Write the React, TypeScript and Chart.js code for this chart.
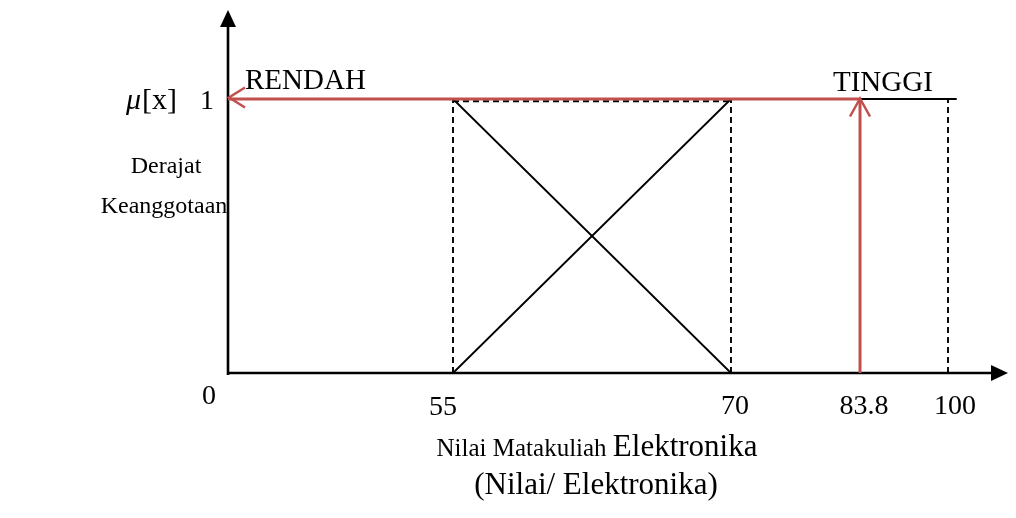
import React, { useEffect, useRef } from 'react';
import { Chart, registerables, LinearScale } from 'chart.js';

Chart.register(...registerables);

// ---------- data ----------
const xTickValues = [0, 55, 70, 83.8, 100];
const xTickLabels = ['0', '55', '70', '83.8', '100'];

const rendahX = [0, 55, 70];
const rendahY = [1, 1, 0];

const tinggiX = [55, 70, 101.6];
const tinggiY = [0, 1, 1];

const guideX = [55, 70, 100];
const plateauX = [55, 70];

const inputValue = 83.8;
const inputDegree = 1;

const setLabels = ['RENDAH', 'TINGGI'];
const yTopLabel = '1';
const yAxisLabel = ['Derajat', 'Keanggotaan'];
const xTitleSmall = 'Nilai Matakuliah ';
const xTitleBig = 'Elektronika';
const xSubtitle = '(Nilai/ Elektronika)';

// ---------- layout (schematic, non-proportional axis) ----------
const X_FRACTIONS = [0, 0.3125, 0.6986, 0.8778, 1];
const FONT = '"Liberation Serif", "Times New Roman", serif';
const RED = '#C0504D';

function interp(v: number, xs: number[], ys: number[]) {
  const n = xs.length;
  let i = 0;
  if (v <= xs[0]) i = 0;
  else if (v >= xs[n - 1]) i = n - 2;
  else {
    while (i < n - 2 && v > xs[i + 1]) i++;
  }
  const t = (v - xs[i]) / (xs[i + 1] - xs[i]);
  return ys[i] + t * (ys[i + 1] - ys[i]);
}

class SchematicScale extends LinearScale {
  static id = 'schematic';
  static defaults = {};
  getPixelForValue(value: number) {
    return this.getPixelForDecimal(interp(value, xTickValues, X_FRACTIONS));
  }
  getValueForPixel(pixel: number) {
    return interp(this.getDecimalForPixel(pixel), X_FRACTIONS, xTickValues);
  }
}
Chart.register(SchematicScale as any);

const pts = (xs: number[], ys: number[]) => xs.map((x, i) => ({ x, y: ys[i] }));

const diagramPlugin = {
  id: 'diagram',
  beforeDatasetsDraw(chart: any) {
    const { ctx } = chart;
    const xs = chart.scales.x, ys = chart.scales.y;
    const ox = xs.getPixelForValue(0), oy = ys.getPixelForValue(0);
    ctx.save();
    ctx.strokeStyle = '#000';
    ctx.fillStyle = '#000';
    ctx.lineWidth = 2.6;
    ctx.beginPath();
    ctx.moveTo(ox, oy + 2);
    ctx.lineTo(ox, 24);
    ctx.stroke();
    ctx.beginPath();
    ctx.moveTo(ox, 10);
    ctx.lineTo(ox - 8, 27);
    ctx.lineTo(ox + 8, 27);
    ctx.closePath();
    ctx.fill();
    ctx.beginPath();
    ctx.moveTo(ox - 1, oy);
    ctx.lineTo(994, oy);
    ctx.stroke();
    ctx.beginPath();
    ctx.moveTo(1008, oy);
    ctx.lineTo(991, oy - 8);
    ctx.lineTo(991, oy + 8);
    ctx.closePath();
    ctx.fill();
    ctx.restore();
  },
  afterDatasetsDraw(chart: any) {
    const { ctx } = chart;
    const xs = chart.scales.x, ys = chart.scales.y;
    const ox = xs.getPixelForValue(0);
    const y1 = ys.getPixelForValue(inputDegree) - 1.5;
    const xi = xs.getPixelForValue(inputValue);
    ctx.save();
    // red chevrons
    ctx.strokeStyle = RED;
    ctx.lineWidth = 2.5;
    ctx.lineCap = 'butt';
    ctx.beginPath();
    ctx.moveTo(ox + 17, y1 - 10);
    ctx.lineTo(ox + 1, y1);
    ctx.lineTo(ox + 17, y1 + 10);
    ctx.stroke();
    ctx.beginPath();
    ctx.moveTo(xi - 10, y1 + 19);
    ctx.lineTo(xi, y1 + 1);
    ctx.lineTo(xi + 10, y1 + 19);
    ctx.stroke();

    // texts
    ctx.fillStyle = '#000';
    ctx.textBaseline = 'alphabetic';
    ctx.textAlign = 'left';
    ctx.font = `italic 30px ${FONT}`;
    ctx.fillText('\u03BC', 126, 109);
    const mw = ctx.measureText('\u03BC').width;
    ctx.font = `30px ${FONT}`;
    ctx.fillText('[x]', 126 + mw + 1, 109);
    ctx.font = `28px ${FONT}`;
    ctx.fillText(yTopLabel, 200, 109);
    ctx.font = `29px ${FONT}`;
    ctx.fillText(setLabels[0], 245, 89);
    ctx.fillText(setLabels[1], 833, 91);

    ctx.textAlign = 'center';
    ctx.font = `24px ${FONT}`;
    ctx.fillText(yAxisLabel[0], 166, 173);
    ctx.fillText(yAxisLabel[1], 164, 213);

    ctx.font = `28px ${FONT}`;
    const nudges = [-19, -10, 4, 4, 7];
    const baselines = [404, 415, 414, 414, 414];
    xTickValues.forEach((v, i) => {
      ctx.fillText(xTickLabels[i], xs.getPixelForValue(v) + nudges[i], baselines[i]);
    });

    ctx.textAlign = 'left';
    ctx.font = `25px ${FONT}`;
    const w1 = ctx.measureText(xTitleSmall).width;
    ctx.font = `31px ${FONT}`;
    const w2 = ctx.measureText(xTitleBig).width;
    const start = 597 - (w1 + w2) / 2;
    ctx.font = `25px ${FONT}`;
    ctx.fillText(xTitleSmall, start, 456);
    ctx.font = `31px ${FONT}`;
    ctx.fillText(xTitleBig, start + w1, 456);
    ctx.textAlign = 'center';
    ctx.fillText(xSubtitle, 596, 494);
    ctx.restore();
  },
};

export default function App() {
  const ref = useRef<HTMLCanvasElement>(null);
  useEffect(() => {
    if (!ref.current) return;
    const black = { borderColor: '#000', borderWidth: 1.8, pointRadius: 0, showLine: true, fill: false, clip: false as any, tension: 0 };
    const dashed = { ...black, borderDash: [6, 4], borderWidth: 1.9 };
    const datasets: any[] = [
      { label: 'input-h', data: pts([inputValue, 0], [inputDegree, inputDegree]), borderColor: RED, borderWidth: 3, pointRadius: 0, showLine: true, clip: false, order: 0 },
      { label: 'input-v', data: pts([inputValue, inputValue], [0, inputDegree]), borderColor: RED, borderWidth: 3, pointRadius: 0, showLine: true, clip: false, order: 0 },
      { label: setLabels[0], data: pts(rendahX, rendahY), ...black, order: 2 },
      { label: setLabels[1], data: pts(tinggiX, tinggiY), ...black, order: 2 },
      ...guideX.map((g) => ({ label: 'guide', data: pts([g, g], [0, 1]), ...dashed, order: 3 })),
      { label: 'plateau', data: pts(plateauX, [1, 1]).map((p) => ({ x: p.x, y: p.y - 0.008 })), ...dashed, order: 3 },
    ];
    const chart = new Chart(ref.current, {
      type: 'scatter',
      data: { datasets },
      options: {
        animation: false,
        responsive: false,
        events: [],
        layout: { padding: { left: 228, right: 68, top: 99, bottom: 145 } },
        plugins: { legend: { display: false }, tooltip: { enabled: false } },
        scales: {
          x: { type: 'schematic' as any, min: 0, max: 100, display: false },
          y: { type: 'linear', min: 0, max: 1, display: false },
        },
      },
      plugins: [diagramPlugin],
    });
    return () => chart.destroy();
  }, []);
  return (
    <div style={{ position: 'fixed', left: 0, top: 0, width: 1016, height: 518, background: '#fff' }}>
      <canvas ref={ref} width={1016} height={518} style={{ width: 1016, height: 518, display: 'block' }} />
    </div>
  );
}
